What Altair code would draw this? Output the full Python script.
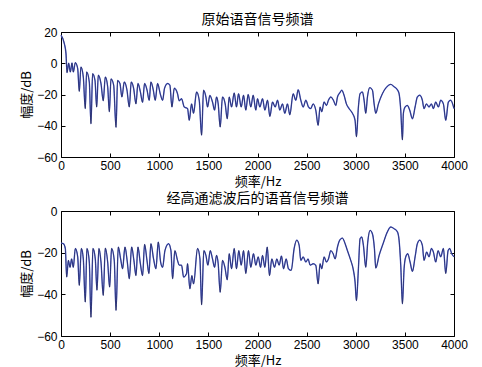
import altair as alt
import pandas as pd

freq1 = [0, 34, 51, 61, 78, 95, 112, 125, 146, 170, 186, 203, 227, 247, 261, 288, 305, 322, 346, 363,
         380, 407, 430, 451, 475, 492, 509, 536, 560, 576, 600, 620, 644, 671, 695, 715, 739, 763, 783, 807,
         830, 851, 875, 898, 915, 939, 959, 983, 1010, 1034, 1054, 1085, 1108, 1129, 1153, 1186, 1203, 1227, 1254, 1288,
         1305, 1329, 1349, 1380, 1407, 1431, 1451, 1475, 1492, 1515, 1542, 1563, 1583, 1600, 1620, 1644, 1671, 1692, 1712, 1736,
         1763, 1786, 1807, 1834, 1858, 1881, 1905, 1932, 1956, 1983, 2000, 2024, 2051, 2075, 2102, 2126, 2153, 2180, 2204, 2227,
         2254, 2278, 2305, 2329, 2363, 2390, 2414, 2441, 2465, 2492, 2519, 2542, 2566, 2593, 2617, 2637, 2654, 2678, 2702, 2722,
         2746, 2773, 2797, 2814, 2837, 2858, 2881, 2905, 2932, 2966, 2993, 3007, 3027, 3044, 3068, 3085, 3102, 3119, 3143, 3170,
         3187, 3204, 3231, 3271, 3322, 3356, 3390, 3424, 3441, 3458, 3475, 3485, 3502, 3526, 3549, 3577, 3604, 3627, 3651, 3678,
         3695, 3719, 3746, 3770, 3790, 3814, 3841, 3865, 3892, 3916, 3943, 3966, 4000]
db1 = [17.9, 12.5, 6, -6, 0, -5.6, 0.2, -5.6, 0.4, -3.5, -18, -2.4, -8.8, -29, -5.6, -12, -38.7, -6.7, -11, -28,
       -7.7, -13, -24, -8.8, -15, -31, -10, -14, -41, -11, -13, -21.6, -12, -17, -28, -12, -16, -26, -13, -18,
       -25, -13, -17, -23.7, -12, -17, -23.7, -13, -19.5, -23.7, -16, -13, -14, -28, -16, -19.5, -24, -22.7, -28, -29,
       -36.5, -26, -32, -18.4, -23.7, -46, -17.3, -21.6, -28, -20.6, -24.8, -30, -21.6, -26, -40.8, -21.6, -26, -35.5, -21.6, -28,
       -19, -28, -19.5, -28, -20.5, -30, -20, -28, -20.5, -30, -22.7, -28, -22.7, -30, -23.7, -34, -24.8, -28, -23.7, -30,
       -26, -32, -26, -33, -19.5, -23.7, -17, -23.7, -28, -23.7, -28, -29, -26, -30, -39.7, -28, -31, -24.8, -27, -23.7,
       -21.6, -23.7, -27, -21.6, -19, -17.3, -20.5, -26, -29, -32, -36.5, -47, -28, -19.5, -18.4, -23.7, -32, -21.6, -15.6, -17.3,
       -26, -32, -26, -19.5, -14.7, -13.5, -15, -17, -19.5, -30, -49, -32, -28, -27, -30, -35.5, -28, -21.6, -20.5, -23.7,
       -29, -26, -28, -26, -29, -24.8, -28, -23.7, -26, -36.5, -24.8, -23.7, -29]

freq2 = [0, 24, 44, 58, 75, 92, 108, 125, 146, 170, 186, 207, 227, 247, 264, 288, 305, 325, 349, 366,
         386, 407, 430, 451, 475, 495, 515, 542, 560, 583, 607, 627, 651, 675, 695, 719, 742, 763, 783, 807,
         830, 851, 875, 895, 915, 942, 966, 990, 1014, 1034, 1058, 1095, 1119, 1136, 1159, 1186, 1203, 1227, 1248, 1278,
         1288, 1312, 1332, 1349, 1390, 1414, 1431, 1454, 1475, 1495, 1519, 1542, 1563, 1583, 1600, 1620, 1644, 1668, 1692, 1712,
         1736, 1763, 1786, 1810, 1834, 1858, 1881, 1908, 1932, 1959, 1983, 2007, 2031, 2051, 2075, 2099, 2122, 2146, 2173, 2197,
         2220, 2244, 2265, 2292, 2315, 2343, 2373, 2400, 2424, 2441, 2465, 2492, 2515, 2536, 2566, 2593, 2617, 2637, 2654, 2678,
         2702, 2722, 2746, 2770, 2790, 2814, 2837, 2864, 2892, 2915, 2949, 2973, 2993, 3007, 3027, 3044, 3061, 3078, 3102, 3122,
         3146, 3170, 3190, 3204, 3238, 3278, 3322, 3356, 3390, 3424, 3441, 3458, 3475, 3492, 3509, 3529, 3553, 3577, 3604, 3627,
         3651, 3678, 3695, 3722, 3746, 3770, 3790, 3814, 3838, 3865, 3892, 3916, 3940, 3956, 3977, 4000]
db2 = [-15.4, -15.7, -18, -31.7, -23.7, -27, -23, -27, -18, -22, -35.7, -18, -23, -43.7, -18, -24.5, -51, -18, -23, -38,
       -18, -24.5, -40.5, -17.8, -24.5, -36.5, -18, -23.7, -47.7, -17.3, -23, -27.7, -17.3, -24.5, -32.5, -17.3, -23.7, -31, -17.3, -25,
       -31, -16, -23.7, -30, -15.7, -23, -27.7, -14.9, -24.5, -27, -19, -15.7, -19, -32.5, -19, -23.7, -26, -26, -31.7, -30,
       -25.3, -37.3, -31, -35, -18, -23, -45, -19, -21.3, -26, -19, -23, -27, -21.3, -25.3, -39, -23.7, -27, -33, -20.5,
       -27.7, -18, -27.7, -19, -26, -19, -30, -19, -27, -20.5, -26, -22, -27, -21.3, -27, -17.3, -31, -23, -27, -23,
       -26, -21.6, -27.7, -23, -27.7, -28.5, -18, -14, -16.5, -23.7, -22, -24.5, -23, -26, -25.3, -26, -35, -25.3, -27.7, -22,
       -24.5, -23, -19, -20.5, -23, -17.3, -14, -13, -15.7, -19, -23.7, -27.7, -34, -43, -27.7, -13.3, -12.5, -16.5, -27, -15,
       -9.3, -11, -18, -27.4, -21.3, -15.7, -10, -7.7, -8.5, -10, -14, -26, -44.5, -27.7, -22, -20.5, -24.5, -29, -22, -15.7,
       -14, -16.5, -23.7, -19.7, -22, -18, -19.7, -24.5, -19, -22, -18, -30, -19, -18, -20.5, -22]

xticks = [0, 500, 1000, 1500, 2000, 2500, 3000, 3500, 4000]
yticks1 = [-60, -40, -20, 0, 20]
yticks2 = [-60, -40, -20, 0]

title1 = "原始语音信号频谱"
title2 = "经高通滤波后的语音信号频谱"
xtitle = "频率/Hz"
ytitle = "幅度/dB"

LAB = "Liberation Sans"
CJK = "Noto Sans CJK SC"


def panel(freq, db, ydom, yticks, title):
    df = pd.DataFrame({"f": freq, "db": db})
    xs = alt.Scale(domain=[0, 4000], nice=False, zero=False)
    ys = alt.Scale(domain=ydom, nice=False, zero=False)
    bottom = alt.Axis(orient="bottom", values=xticks, format="d", grid=False, domain=False,
                      offset=-4, tickSize=4, tickColor="black", labelPadding=3, labelFlush=False,
                      labelFont=LAB, labelFontSize=12, labelColor="black",
                      title=xtitle, titleFont=CJK, titleFontSize=13, titleFontWeight="normal",
                      titleColor="black", titlePadding=4)
    left = alt.Axis(orient="left", values=yticks, format="d", grid=False, domain=False,
                    offset=-4, tickSize=4, tickColor="black", labelPadding=4, labelFlush=False,
                    labelFont=LAB, labelFontSize=12, labelColor="black",
                    title=ytitle, titleFont=CJK, titleFontSize=13, titleFontWeight="normal",
                    titleColor="black", titlePadding=3)
    top = alt.Axis(orient="top", values=xticks, grid=False, domain=False, labels=False,
                   offset=-4, tickSize=4, tickColor="black", title=None)
    right = alt.Axis(orient="right", values=yticks, grid=False, domain=False, labels=False,
                     offset=-4, tickSize=4, tickColor="black", title=None)
    blue = alt.Chart(df).mark_line(color="#5466dc", strokeWidth=1.4, interpolate="monotone").encode(
        x=alt.X("f:Q", scale=xs, axis=bottom),
        y=alt.Y("db:Q", scale=ys, axis=left),
    )
    dark = alt.Chart(df).mark_line(color="#141430", strokeWidth=0.8, opacity=0.75, interpolate="monotone").encode(
        x=alt.X("f:Q", scale=xs, axis=top),
        y=alt.Y("db:Q", scale=ys, axis=right),
    )
    return alt.layer(blue, dark).resolve_axis(x="independent", y="independent").properties(
        width=393, height=125,
        title=alt.TitleParams(title, font=CJK, fontSize=14, fontWeight="normal", color="black", offset=-1),
    )


chart = alt.vconcat(
    panel(freq1, db1, [-60, 20], yticks1, title1),
    panel(freq2, db2, [-60, 0], yticks2, title2),
    spacing=2,
).properties(
    padding={"left": 12, "top": 4, "right": 5, "bottom": 0},
    background="white",
).configure_view(stroke="black", strokeWidth=1)

chart.save("out.html", embed_options={"renderer": "svg", "actions": False})
